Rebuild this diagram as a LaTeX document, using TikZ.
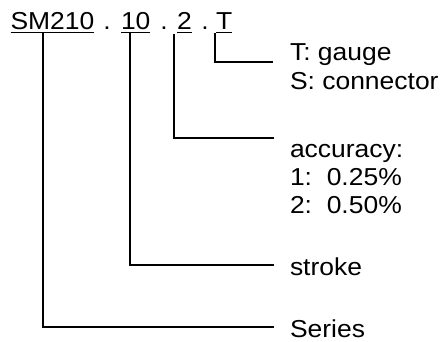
\documentclass[tikz,border=0pt]{standalone}
\usepackage{fontspec}
\setmainfont{Liberation Sans}[FakeStretch=1.08]
\begin{document}
\begin{tikzpicture}[x=1pt,y=-1pt,
  txt/.style={inner sep=0pt,outer sep=0pt,anchor=base west,font=\fontsize{24.5}{28}\selectfont},
  part/.style={txt,text height=18pt,text depth=3pt},
  lead/.style={line width=1.3pt}]
\useasboundingbox (0,0) rectangle (446,341);
% code parts
\node[part] (sm) at (10.5,29.3) {SM210};
\node[txt,anchor=base] (d1) at (107,29.3) {.};
\node[part] (ten) at (121,29.3) {10};
\node[txt,anchor=base] (d2) at (164,29.3) {.};
\node[part] (two) at (177,29.3) {2};
\node[txt,anchor=base] (d3) at (205,29.3) {.};
\node[part] (tee) at (216,29.3) {T};
\foreach \p in {sm,ten,two,tee}
  \draw[line width=1.1pt] (\p.south west) -- (\p.south east);
% labels
\node[txt] (lT1) at (290,60) {T: gauge};
\node[txt] (lT2) at (290,89) {S: connector};
\node[txt] (lA1) at (290,157) {accuracy:};
\node[txt] (lA2) at (290,185) {1:\ \ 0.25\%};
\node[txt] (lA3) at (290,213) {2:\ \ 0.50\%};
\node[txt] (lK) at (290,275) {stroke};
\node[txt] (lS) at (290,337) {Series};
% line ends
\coordinate (eT) at (273,62);
\coordinate (eA) at (274,138);
\coordinate (eK) at (274,265);
\coordinate (eS) at (274,327);
% connectors
\draw[lead] ([xshift=32.5pt,yshift=-1pt]sm.south west) |- (eS);
\draw[lead] ([xshift=9pt,yshift=-1pt]ten.south west) |- (eK);
\draw[lead] ([xshift=-3pt,yshift=-2pt]two.south west) |- (eA);
\draw[lead] ([xshift=-1pt,yshift=-1pt]tee.south west) |- (eT);
\end{tikzpicture}
\end{document}
